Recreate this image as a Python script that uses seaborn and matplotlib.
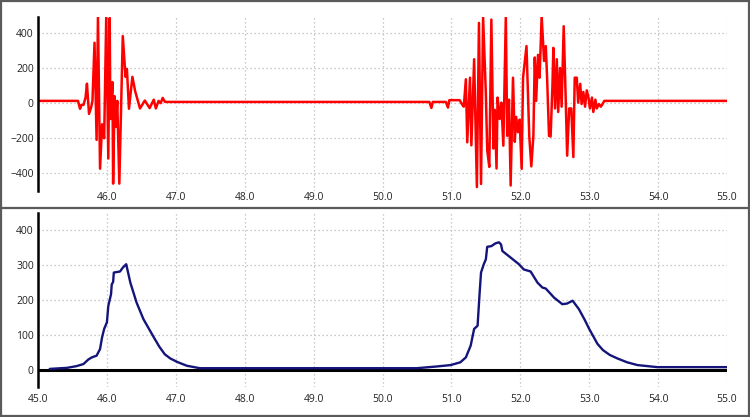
import matplotlib
matplotlib.use("Agg")
import matplotlib.pyplot as plt
import seaborn as sns
from matplotlib.lines import Line2D
from matplotlib.patches import Rectangle

# ==========================================
# DATA
# ==========================================

signal_time = [
    45.00, 45.58, 45.61, 45.63, 45.66, 45.69, 45.71, 45.74, 45.77, 45.79,
    45.82, 45.85, 45.87, 45.90, 45.93, 45.96, 45.99, 46.02, 46.04, 46.05,
    46.08, 46.09, 46.11, 46.13, 46.15, 46.18, 46.23, 46.27, 46.29, 46.32,
    46.37, 46.41, 46.48, 46.55, 46.62, 46.68, 46.71, 46.75, 46.78, 46.81,
    46.84, 46.86,
    50.68, 50.71, 50.73, 50.92, 50.95, 50.97, 51.12, 51.16, 51.18,
    51.21, 51.23, 51.27, 51.29, 51.33, 51.37, 51.40, 51.43, 51.46, 51.50,
    51.52, 51.55, 51.58, 51.61, 51.63, 51.655, 51.67, 51.70, 51.725, 51.754,
    51.79, 51.81, 51.836, 51.86, 51.894, 51.92, 51.94, 51.966, 51.99, 52.02,
    52.04, 52.09, 52.13, 52.16, 52.19, 52.21, 52.23, 52.257, 52.28, 52.31,
    52.345, 52.37, 52.39, 52.417, 52.44, 52.466, 52.48, 52.505, 52.53, 52.55,
    52.577, 52.60, 52.63, 52.66, 52.68, 52.71, 52.74, 52.77, 52.79, 52.82,
    52.84, 52.87, 52.89, 52.915, 52.94, 52.965, 52.99, 53.01, 53.04, 53.06,
    53.09, 53.11, 53.14, 53.17, 53.22, 55.00,
]
signal_value = [
    13, 13, -32, -10, -10, 32, 111, -61, -25, 13,
    344, -209, 495, -373, -120, -200, 490, -315, 485, -90,
    120, -458, 40, -135, 13, -458, 382, 150, 195, -32,
    150, 68, -30, 15, -28, 20, -30, 13, 0, 30,
    8, 7,
    7, -27, 7, 7, -25, 17, 17, -10, -20,
    136, -223, 145, -240, 250, -478, 457, -460, 489, 55,
    -267, -363, 476, -258, -38, -372, 32, -90, 3, -242,
    495, -186, 20, -469, 145, -220, -78, -165, -94, -374,
    145, 325, -186, -360, -186, 260, 13, 275, 145, 495,
    240, 325, 136, -186, -190, 90, 315, -30, 250, -50,
    200, -20, 438, 13, -299, -30, -30, -307, 145, 145,
    3, 110, -5, 64, -20, 73, 32, -30, 32, -50,
    20, -30, -5, -20, 13, 13,
]

envelope_time = [
    45.17, 45.42, 45.56, 45.66, 45.73, 45.78, 45.85, 45.90, 45.93, 45.96,
    46.00, 46.02, 46.06, 46.07, 46.09, 46.10, 46.19, 46.23, 46.28, 46.34,
    46.43, 46.53, 46.68, 46.76, 46.84, 46.92, 47.02, 47.16, 47.35,
    50.50, 50.79, 50.99, 51.13, 51.21, 51.28, 51.33, 51.38, 51.41, 51.43,
    51.47, 51.50, 51.52, 51.58, 51.64, 51.69, 51.72, 51.74, 51.86, 51.98,
    52.05, 52.15, 52.25, 52.32, 52.37, 52.49, 52.61, 52.68, 52.76, 52.85,
    52.93, 53.00, 53.12, 53.20, 53.30, 53.41, 53.55, 53.70, 53.99, 55.00,
]
envelope_value = [
    2, 5, 10, 16, 29, 35, 40, 59, 93, 117,
    136, 183, 217, 245, 252, 279, 282, 293, 303, 250,
    193, 145, 93, 66, 44, 32, 22, 11, 4,
    4, 9, 13, 21, 35, 69, 117, 126, 221, 279,
    303, 317, 353, 355, 363, 366, 360, 341, 322, 303,
    288, 282, 250, 236, 233, 207, 188, 190, 198, 174,
    145, 117, 74, 56, 42, 32, 21, 13, 7, 7,
]

top_yticks = [-400, -200, 0, 200, 400]
top_xticks = [46, 47, 48, 49, 50, 51, 52, 53, 54, 55]
bottom_yticks = [0, 100, 200, 300, 400]
bottom_xticks = [45, 46, 47, 48, 49, 50, 51, 52, 53, 54, 55]

# ==========================================
# STYLE
# ==========================================

sns.set_style("white")
plt.rcParams['font.family'] = ['Open Sans', 'DejaVu Sans']
plt.rcParams['font.size'] = 7.5

fig = plt.figure(figsize=(7.5, 4.17), dpi=100)
ax_top = fig.add_axes([0.0507, 0.542, 0.9186, 0.417])
ax_bot = fig.add_axes([0.0507, 0.072, 0.9186, 0.417])

grid_kw = dict(color='#b8b8b8', linestyle=(0, (1, 2.2)), linewidth=0.9)

# ==========================================
# TOP PANEL - RAW SIGNAL
# ==========================================

sns.lineplot(x=signal_time, y=signal_value, ax=ax_top, color='#ff0000',
             linewidth=1.8, estimator=None, sort=False)
ax_top.set_xlim(45, 55)
ax_top.set_ylim(-500, 490)
ax_top.set_yticks(top_yticks)
ax_top.set_xticks(top_xticks)
ax_top.set_xticklabels([f"{t:.1f}" for t in top_xticks])

# ==========================================
# BOTTOM PANEL - ENVELOPE
# ==========================================

ax_bot.axhline(0, color='black', linewidth=2.2, zorder=1)
sns.lineplot(x=envelope_time, y=envelope_value, ax=ax_bot, color='#14147a',
             linewidth=1.7, estimator=None, sort=False, zorder=3)
ax_bot.set_xlim(45, 55)
ax_bot.set_ylim(-50, 450)
ax_bot.set_yticks(bottom_yticks)
ax_bot.set_xticks(bottom_xticks)
ax_bot.set_xticklabels([f"{t:.1f}" for t in bottom_xticks])

for ax, xpad in [(ax_top, 1), (ax_bot, 5)]:
    ax.grid(True, **grid_kw)
    ax.set_axisbelow(True)
    for side in ['top', 'right', 'bottom']:
        ax.spines[side].set_visible(False)
    ax.spines['left'].set_color('black')
    ax.spines['left'].set_linewidth(1.8)
    ax.tick_params(axis='y', length=0, pad=3, colors='#222222')
    ax.tick_params(axis='x', length=0, pad=xpad, colors='#222222')
    ax.set_xlabel("")
    ax.set_ylabel("")
    ax.patch.set_alpha(0)

# ==========================================
# FRAME
# ==========================================

fig.add_artist(Rectangle((0.0015, 0.0025), 0.997, 0.995, transform=fig.transFigure,
                         fill=False, edgecolor='#5a5a5a', linewidth=1.6))
fig.add_artist(Line2D([0, 1], [0.501, 0.501], transform=fig.transFigure,
                      color='#5a5a5a', linewidth=1.6))

plt.savefig("out.png", dpi=100)
